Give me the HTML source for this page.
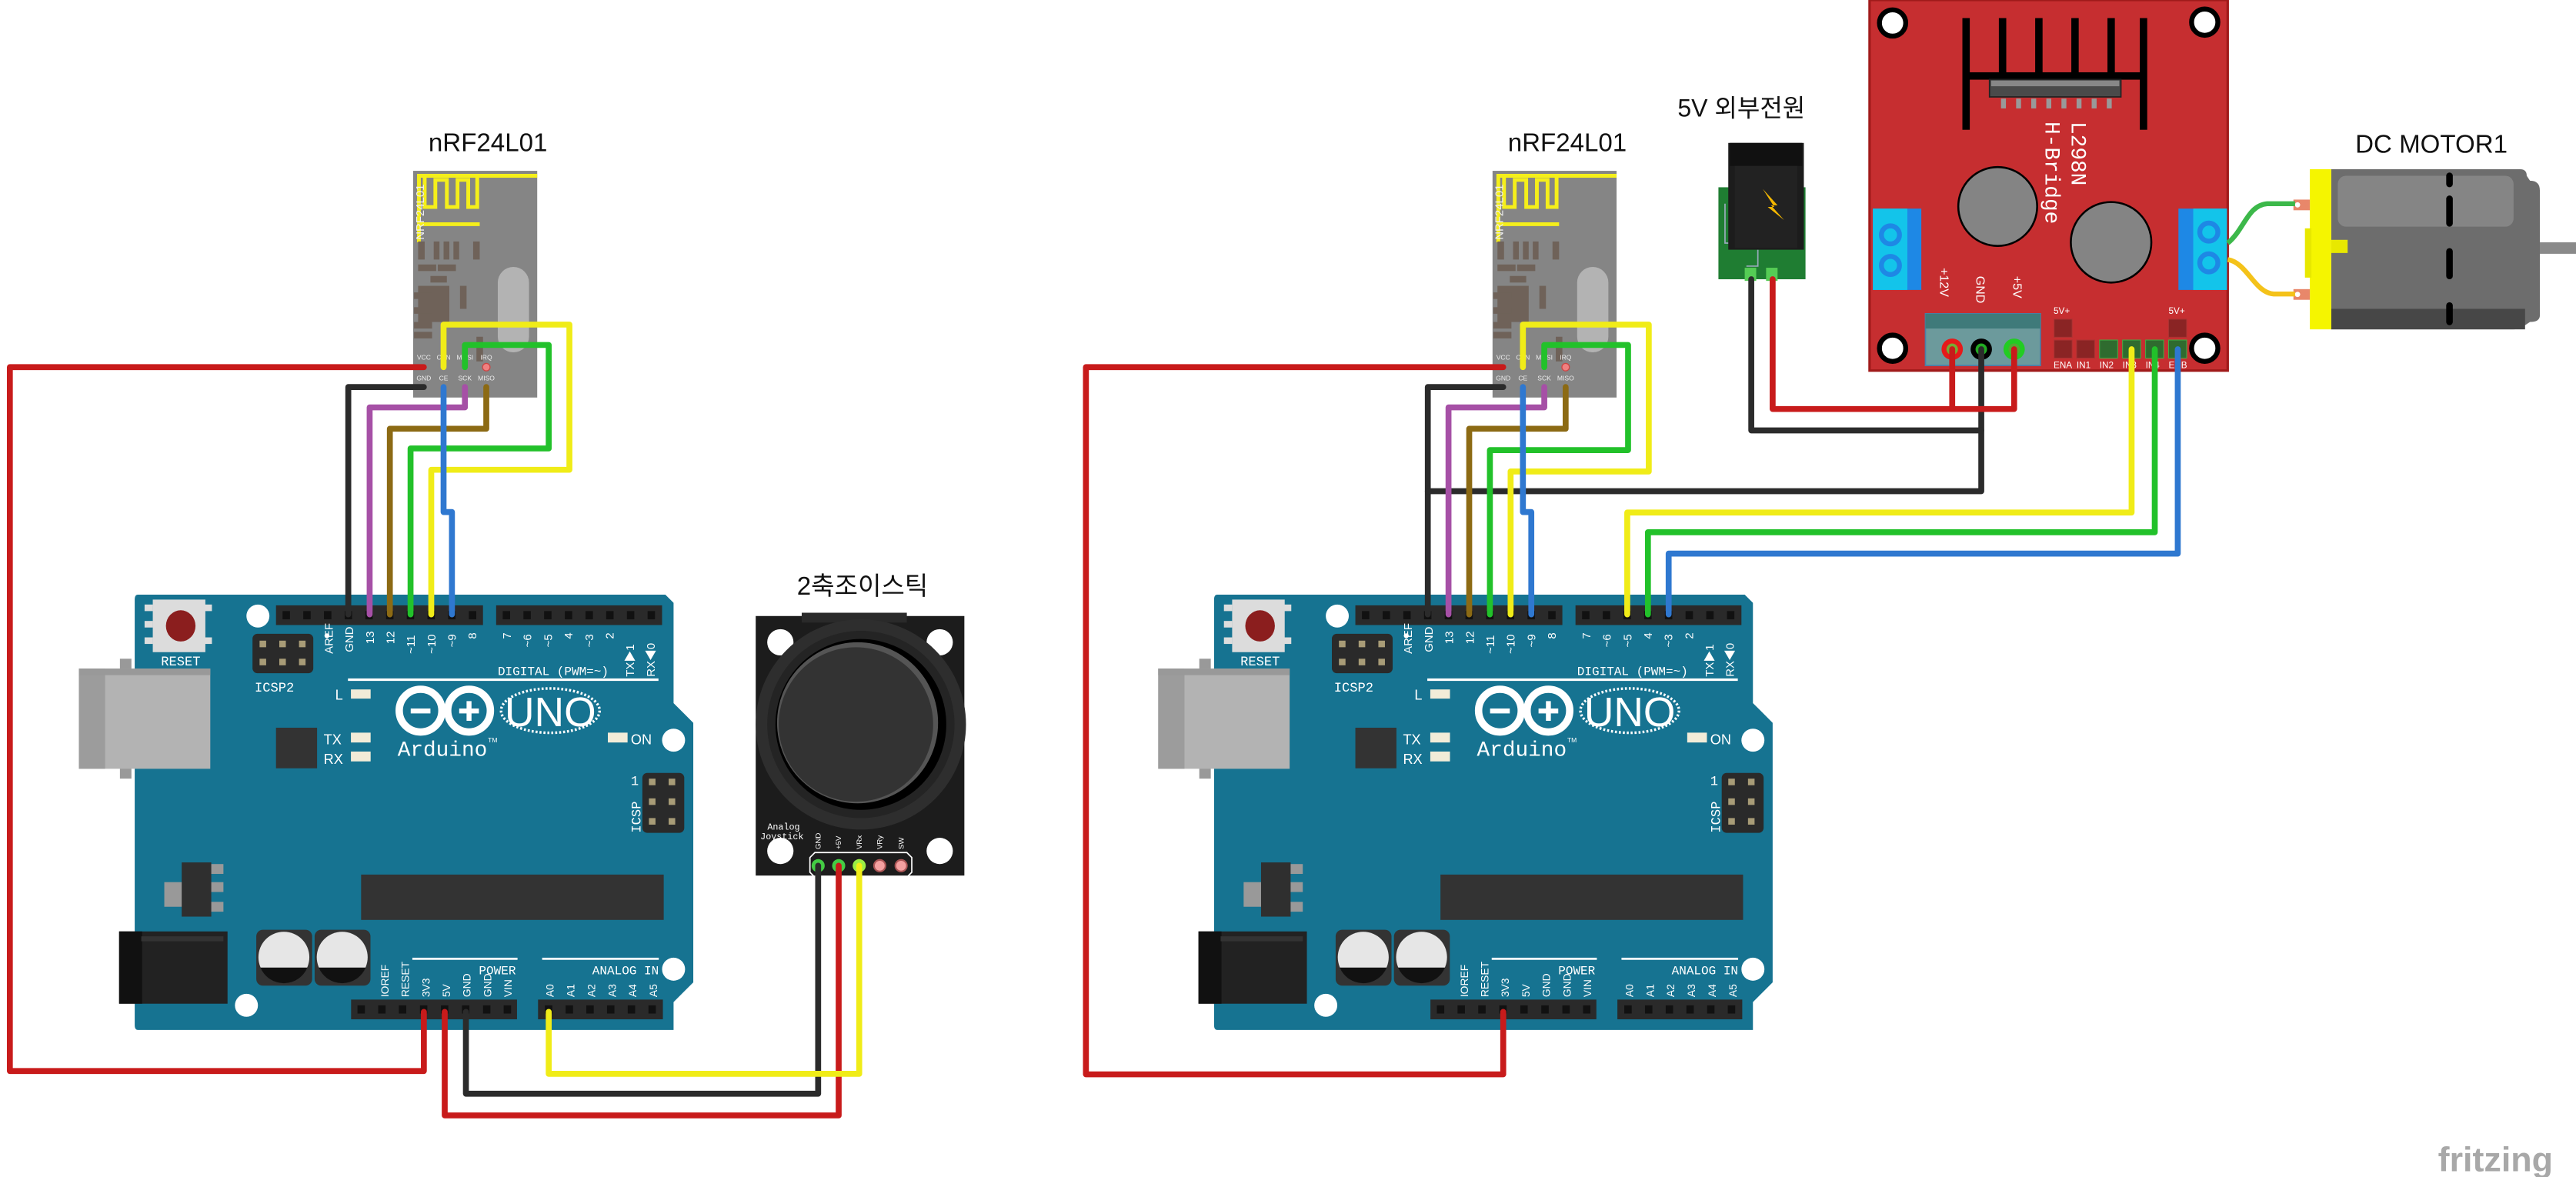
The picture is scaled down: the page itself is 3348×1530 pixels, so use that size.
<!DOCTYPE html>
<html><head><meta charset="utf-8"><style>
html,body{margin:0;padding:0;background:#fff;}
svg{display:block;}
text{font-family:"Liberation Sans","Noto Sans CJK KR",sans-serif;}
.m{font-family:"Liberation Mono","DejaVu Sans Mono",monospace;}
</style></head><body>
<svg width="3348" height="1530" viewBox="0 0 1568 716.5" preserveAspectRatio="none" xmlns="http://www.w3.org/2000/svg" xmlns:xlink="http://www.w3.org/1999/xlink">
<defs>
<g id="ard">
 <path d="M84,362 H405 L410,367 V428 L422,440 V598 L410,610 V627 H84 Q82,627 82,624 V365 Q82,362 84,362 Z" fill="#167391"/>
 <!-- reset -->
 <rect x="88" y="368" width="5" height="4" fill="#ddd"/><rect x="88" y="378" width="5" height="4" fill="#ddd"/><rect x="88" y="388" width="5" height="4" fill="#ddd"/>
 <rect x="124" y="368" width="5" height="4" fill="#ddd"/><rect x="124" y="388" width="5" height="4" fill="#ddd"/>
 <rect x="93" y="365" width="32" height="32" fill="#dcdcdc"/>
 <ellipse cx="110" cy="381" rx="9" ry="9.5" fill="#8b1e1e"/>
 <text x="110" y="405" font-size="8" fill="#fff" text-anchor="middle" class="m">RESET</text>
 <!-- USB -->
 <rect x="73" y="401" width="7" height="8" fill="#999"/><rect x="73" y="466" width="7" height="8" fill="#999"/>
 <rect x="48" y="407" width="80" height="61" fill="#b3b3b3"/>
 <rect x="48" y="407" width="16" height="61" fill="#9c9c9c"/>
 <rect x="48" y="407" width="80" height="4" fill="#999"/>
 <!-- holes -->
 <circle cx="157" cy="375" r="7" fill="#fff"/><circle cx="410" cy="450.6" r="7" fill="#fff"/>
 <circle cx="410" cy="590" r="7" fill="#fff"/><circle cx="150" cy="612" r="7" fill="#fff"/>
 <!-- ICSP2 -->
 <rect x="153.7" y="385.8" width="37" height="24" rx="3" fill="#2a2a2a"/>
 <g fill="#a89c77"><rect x="158" y="390" width="4" height="4"/><rect x="170" y="390" width="4" height="4"/><rect x="182" y="390" width="4" height="4"/><rect x="158" y="401" width="4" height="4"/><rect x="170" y="401" width="4" height="4"/><rect x="182" y="401" width="4" height="4"/></g>
 <text x="167" y="421" font-size="8" fill="#fff" text-anchor="middle" class="m">ICSP2</text>
 <circle cx="199" cy="387" r="1.5" fill="#fff"/>
 <!-- digital headers -->
 <rect x="168" y="368.5" width="126" height="12" fill="#2a2a2a"/>
 <rect x="302" y="368.5" width="101" height="12" fill="#2a2a2a"/>
 <g fill="#111">
  <rect x="172" y="372" width="4.5" height="5"/><rect x="184.6" y="372" width="4.5" height="5"/><rect x="197.2" y="372" width="4.5" height="5"/><rect x="209.8" y="372" width="4.5" height="5"/><rect x="222.4" y="372" width="4.5" height="5"/><rect x="235" y="372" width="4.5" height="5"/><rect x="247.6" y="372" width="4.5" height="5"/><rect x="260.2" y="372" width="4.5" height="5"/><rect x="272.8" y="372" width="4.5" height="5"/><rect x="285.4" y="372" width="4.5" height="5"/>
  <rect x="306" y="372" width="4.5" height="5"/><rect x="318.6" y="372" width="4.5" height="5"/><rect x="331.2" y="372" width="4.5" height="5"/><rect x="343.8" y="372" width="4.5" height="5"/><rect x="356.4" y="372" width="4.5" height="5"/><rect x="369" y="372" width="4.5" height="5"/><rect x="381.6" y="372" width="4.5" height="5"/><rect x="394.2" y="372" width="4.5" height="5"/>
 </g>
 <g font-size="7" fill="#fff" class="m">
  <text transform="translate(202.5,398) rotate(-90)">AREF</text>
  <text transform="translate(215,397) rotate(-90)">GND</text>
  <text transform="translate(227.5,392) rotate(-90)">13</text>
  <text transform="translate(240,392) rotate(-90)">12</text>
  <text transform="translate(252.5,398) rotate(-90)">~11</text>
  <text transform="translate(265,398) rotate(-90)">~10</text>
  <text transform="translate(277.5,394) rotate(-90)">~9</text>
  <text transform="translate(290,389) rotate(-90)">8</text>
  <text transform="translate(311,389) rotate(-90)">7</text>
  <text transform="translate(323.5,394) rotate(-90)">~6</text>
  <text transform="translate(336,394) rotate(-90)">~5</text>
  <text transform="translate(348.5,389) rotate(-90)">4</text>
  <text transform="translate(361,394) rotate(-90)">~3</text>
  <text transform="translate(373.5,389) rotate(-90)">2</text>
  <text transform="translate(386,412) rotate(-90)">TX▶1</text>
  <text transform="translate(398.5,412) rotate(-90)">RX◀0</text>
 </g>
 <text x="303" y="411" font-size="7.5" fill="#fff" class="m">DIGITAL (PWM=~)</text>
 <rect x="211.8" y="413" width="189" height="1.5" fill="#fff"/>
 <!-- LEDs -->
 <g fill="#f2ecd8"><rect x="213.6" y="419.7" width="12" height="5.6"/><rect x="213.6" y="446" width="12" height="6"/><rect x="213.6" y="457.5" width="12" height="6"/><rect x="370" y="446" width="12" height="6"/></g>
 <g font-size="8.5" fill="#fff" class="m"><text x="204" y="426">L</text><text x="197" y="453">TX</text><text x="197" y="465">RX</text><text x="384" y="453">ON</text></g>
 <rect x="168" y="443" width="25" height="24.7" fill="#333"/>
 <!-- logo -->
 <circle cx="256" cy="432.6" r="13" fill="none" stroke="#fff" stroke-width="4.5"/>
 <circle cx="285.5" cy="432.6" r="13" fill="none" stroke="#fff" stroke-width="4.5"/>
 <rect x="250" y="431.3" width="12" height="3" fill="#fff"/>
 <rect x="279.5" y="431.3" width="12" height="3" fill="#fff"/><rect x="284" y="426.8" width="3" height="12" fill="#fff"/>
 <ellipse cx="335" cy="432.6" rx="30" ry="13.5" fill="none" stroke="#fff" stroke-width="1.6" stroke-dasharray="1.2 1.2"/>
 <text x="335" y="442" font-size="25" fill="#fff" text-anchor="middle">UNO</text>
 <text x="242" y="460" font-size="13" fill="#fff" class="m">Arduino</text>
 <text x="297" y="452" font-size="4" fill="#fff">TM</text>
 <!-- ICSP -->
 <rect x="391" y="470.5" width="25.5" height="36.5" rx="3" fill="#2a2a2a"/>
 <g fill="#a89c77"><rect x="395" y="474" width="4" height="4"/><rect x="407" y="474" width="4" height="4"/><rect x="395" y="486" width="4" height="4"/><rect x="407" y="486" width="4" height="4"/><rect x="395" y="498" width="4" height="4"/><rect x="407" y="498" width="4" height="4"/></g>
 <text transform="translate(390,507) rotate(-90)" font-size="8" fill="#fff" class="m">ICSP</text>
 <text x="384" y="478" font-size="8" fill="#fff" class="m">1</text>
 <!-- main chip -->
 <rect x="219.8" y="532.4" width="184.2" height="27.6" fill="#333"/>
 <!-- regulator -->
 <rect x="100" y="537" width="12" height="15" fill="#999"/>
 <rect x="128" y="526" width="8" height="6" fill="#999"/><rect x="128" y="537" width="8" height="6" fill="#999"/><rect x="128" y="549" width="8" height="6" fill="#999"/>
 <rect x="110.6" y="525" width="18" height="33" fill="#2f2f2f"/>
 <!-- power jack -->
 <rect x="72.5" y="567" width="66" height="44" fill="#222"/>
 <rect x="72.5" y="567" width="14" height="44" fill="#111"/>
 <rect x="86" y="570" width="50" height="3" fill="#333"/>
 <!-- capacitors -->
 <rect x="156" y="566" width="34" height="34" rx="4" fill="#333"/>
 <rect x="191.5" y="566" width="34" height="34" rx="4" fill="#333"/>
 <circle cx="172.8" cy="582.7" r="15.5" fill="#e6e6e6"/>
 <circle cx="208.3" cy="582.7" r="15.5" fill="#e6e6e6"/>
 <path d="M158.5,589 H187.1 A15.5,15.5 0 0 1 158.5,589 Z" fill="#111"/>
 <path d="M194,589 H222.6 A15.5,15.5 0 0 1 194,589 Z" fill="#111"/>
 <!-- bottom headers -->
 <rect x="213.7" y="608.5" width="101" height="12" fill="#2a2a2a"/>
 <rect x="327.5" y="608.5" width="76" height="12" fill="#2a2a2a"/>
 <g fill="#111">
  <rect x="217.6" y="612" width="4.5" height="5"/><rect x="230.2" y="612" width="4.5" height="5"/><rect x="242.8" y="612" width="4.5" height="5"/><rect x="255.6" y="612" width="4.5" height="5"/><rect x="268.4" y="612" width="4.5" height="5"/><rect x="281.2" y="612" width="4.5" height="5"/><rect x="294" y="612" width="4.5" height="5"/><rect x="306.6" y="612" width="4.5" height="5"/>
  <rect x="331.7" y="612" width="4.5" height="5"/><rect x="344.3" y="612" width="4.5" height="5"/><rect x="356.9" y="612" width="4.5" height="5"/><rect x="369.5" y="612" width="4.5" height="5"/><rect x="382.1" y="612" width="4.5" height="5"/><rect x="394.7" y="612" width="4.5" height="5"/>
 </g>
 <rect x="251" y="583" width="64" height="1.3" fill="#fff"/>
 <rect x="330" y="583" width="71" height="1.3" fill="#fff"/>
 <text x="314" y="593" font-size="7.5" fill="#fff" text-anchor="end" class="m">POWER</text>
 <text x="401" y="593" font-size="7.5" fill="#fff" text-anchor="end" class="m">ANALOG IN</text>
 <g font-size="6.5" fill="#fff" class="m">
  <text transform="translate(236.5,607) rotate(-90)">IOREF</text>
  <text transform="translate(249,607) rotate(-90)">RESET</text>
  <text transform="translate(261.5,607) rotate(-90)">3V3</text>
  <text transform="translate(274,607) rotate(-90)">5V</text>
  <text transform="translate(286.5,607) rotate(-90)">GND</text>
  <text transform="translate(299,607) rotate(-90)">GND</text>
  <text transform="translate(311.5,607) rotate(-90)">VIN</text>
  <text transform="translate(337,607) rotate(-90)">A0</text>
  <text transform="translate(349.6,607) rotate(-90)">A1</text>
  <text transform="translate(362.2,607) rotate(-90)">A2</text>
  <text transform="translate(374.8,607) rotate(-90)">A3</text>
  <text transform="translate(387.4,607) rotate(-90)">A4</text>
  <text transform="translate(400,607) rotate(-90)">A5</text>
 </g>
</g>
<g id="nrf">
 <rect x="251.5" y="104" width="75.5" height="138" fill="#858585"/>
 <path d="M255,147.5 V107 H327 M255,136.5 H292 M258.5,107 V126 H265 V109.5 H272 V126 H278.5 V109.5 H285 V126 H290.5 V107" fill="none" stroke="#f5ef1a" stroke-width="2.3"/>
 <rect x="303" y="162.5" width="19" height="52" rx="9.5" fill="#b3b3b3"/>
 <g fill="#6f6259">
  <rect x="254.5" y="147" width="4" height="11"/><rect x="264" y="147" width="3.5" height="11"/><rect x="270" y="147" width="3.5" height="11"/><rect x="276" y="147" width="3.5" height="11"/><rect x="288" y="147" width="4" height="11"/>
  <rect x="254.5" y="161" width="11" height="4"/><rect x="266.5" y="161" width="11" height="4"/><rect x="262" y="168" width="10" height="4"/>
  <rect x="254.5" y="174" width="19" height="22"/><rect x="280" y="174" width="4" height="14"/>
  <rect x="240" y="178" width="11" height="4" transform="translate(12,0)"/><rect x="252" y="187" width="11" height="4"/><rect x="252" y="196" width="11" height="4"/><rect x="252" y="202" width="11" height="4"/>
  <rect x="290" y="205" width="4" height="15"/>
 </g>
 <text transform="translate(258,146) rotate(-90)" font-size="7" fill="#eee">NRF24L01</text>
 <g font-size="4" fill="#eee" text-anchor="middle"><text x="258" y="219">VCC</text><text x="270" y="219">CSN</text><text x="283" y="219">MOSI</text><text x="296" y="219">IRQ</text><text x="258" y="231.5">GND</text><text x="270" y="231.5">CE</text><text x="283" y="231.5">SCK</text><text x="296" y="231.5">MISO</text></g>
 <circle cx="296" cy="223.5" r="2.3" fill="#f08080" stroke="#c44" stroke-width="0.6"/>
</g>
</defs>

<!-- labels -->
<text x="297" y="92" font-size="15.5" fill="#111" text-anchor="middle">nRF24L01</text>
<text x="954" y="92" font-size="15.5" fill="#111" text-anchor="middle">nRF24L01</text>
<text x="525" y="362" font-size="15.5" fill="#111" text-anchor="middle">2축조이스틱</text>
<text x="1060" y="71" font-size="15" fill="#111" text-anchor="middle">5V 외부전원</text>
<text x="1480" y="93" font-size="15.5" fill="#111" text-anchor="middle">DC MOTOR1</text>
<text x="1519" y="713" font-size="21" fill="#a8a8a8" text-anchor="middle" font-weight="bold">fritzing</text>

<use xlink:href="#ard"/>
<use xlink:href="#ard" transform="translate(657,0)"/>
<use xlink:href="#nrf"/>
<use xlink:href="#nrf" transform="translate(657,0)"/>

<!-- joystick -->
<rect x="460" y="375" width="127" height="158" fill="#1c1c1c"/>
<rect x="488" y="373" width="64" height="6" fill="#2a2a2a"/>
<circle cx="475" cy="391" r="8" fill="#fff"/><circle cx="572" cy="391" r="8" fill="#fff"/>
<circle cx="475" cy="518" r="8" fill="#fff"/><circle cx="572" cy="518" r="8" fill="#fff"/>
<circle cx="524" cy="441" r="64" fill="#2e2e2e"/>
<circle cx="524" cy="441" r="57" fill="#242424"/>
<circle cx="524" cy="441" r="52" fill="#000"/>
<circle cx="522" cy="440" r="49" fill="#555"/>
<circle cx="521" cy="441" r="47" fill="#333"/>
<text x="477" y="505" font-size="5.5" fill="#fff" text-anchor="middle" class="m">Analog</text>
<text x="476" y="511" font-size="5.5" fill="#fff" text-anchor="middle" class="m">Joystick</text>
<g font-size="4.5" fill="#fff" class="m"><text transform="translate(499.5,517) rotate(-90)">GND</text><text transform="translate(512,517) rotate(-90)">+5V</text><text transform="translate(524.5,517) rotate(-90)">VRx</text><text transform="translate(537,517) rotate(-90)">VRy</text><text transform="translate(550,517) rotate(-90)">SW</text></g>
<path d="M493,522 L496,519 H552 L555,522 V531 L552,534 H496 L493,531 Z" fill="none" stroke="#fff" stroke-width="0.8"/>
<circle cx="498" cy="527" r="4" fill="#4c4" /><circle cx="510.5" cy="527" r="4" fill="#4c4"/><circle cx="523" cy="527" r="4" fill="#9e4"/>
<circle cx="535.5" cy="527" r="3.5" fill="#f4a0a0" stroke="#a55" stroke-width="1"/><circle cx="548.5" cy="527" r="3.5" fill="#f4a0a0" stroke="#a55" stroke-width="1"/>

<!-- L298N -->
<rect x="1138" y="0" width="218" height="225.6" fill="#c62e30" stroke="#a01a1a" stroke-width="1.5"/>
<g fill="#fff" stroke="#000" stroke-width="3"><circle cx="1152" cy="14" r="8"/><circle cx="1342" cy="13.5" r="8"/><circle cx="1152" cy="212" r="8"/><circle cx="1342" cy="212" r="8"/></g>
<g fill="#000"><rect x="1194.5" y="11" width="4.5" height="68"/><rect x="1216.7" y="11" width="4.5" height="36"/><rect x="1238.8" y="11" width="4.5" height="36"/><rect x="1260.8" y="11" width="4.5" height="36"/><rect x="1282.8" y="11" width="4.5" height="36"/><rect x="1302.5" y="11" width="4.5" height="68"/><rect x="1194.5" y="44" width="112" height="4.5"/></g>
<rect x="1211" y="48.4" width="80" height="10.6" fill="#4a4a4a" stroke="#222" stroke-width="0.8"/>
<rect x="1212" y="49" width="78" height="3.5" fill="#888"/>
<g fill="#999"><rect x="1218" y="60" width="3" height="6"/><rect x="1227.2" y="60" width="3" height="6"/><rect x="1236.4" y="60" width="3" height="6"/><rect x="1245.6" y="60" width="3" height="6"/><rect x="1254.8" y="60" width="3" height="6"/><rect x="1264" y="60" width="3" height="6"/><rect x="1273.2" y="60" width="3" height="6"/><rect x="1282.4" y="60" width="3" height="6"/></g>
<circle cx="1216" cy="125.7" r="24" fill="#848484" stroke="#000" stroke-width="1.2"/>
<circle cx="1285" cy="147.5" r="24.5" fill="#848484" stroke="#000" stroke-width="1.2"/>
<text transform="translate(1261,74) rotate(90)" font-size="13" fill="#fff" class="m">L298N</text>
<text transform="translate(1245,74) rotate(90)" font-size="13" fill="#fff" class="m">H-Bridge</text>
<rect x="1140" y="127" width="29.5" height="49.5" fill="#1e88e5"/><rect x="1140" y="127" width="21" height="49.5" fill="#13c4ea"/>
<circle cx="1150.7" cy="143" r="5.5" fill="none" stroke="#1e88e5" stroke-width="3"/><circle cx="1150.7" cy="161.6" r="5.5" fill="none" stroke="#1e88e5" stroke-width="3"/>
<rect x="1326" y="127" width="29.5" height="49.5" fill="#1e88e5"/><rect x="1335" y="127" width="20.5" height="49.5" fill="#13c4ea"/>
<circle cx="1344.5" cy="141.3" r="5.5" fill="none" stroke="#1e88e5" stroke-width="3"/><circle cx="1344.5" cy="160" r="5.5" fill="none" stroke="#1e88e5" stroke-width="3"/>
<g font-size="7.5" fill="#fff" class="m"><text transform="translate(1181,163) rotate(90)">+12V</text><text transform="translate(1203,168) rotate(90)">GND</text><text transform="translate(1225.5,168) rotate(90)">+5V</text></g>
<rect x="1172" y="191" width="70" height="31.5" fill="#6c9a9c" stroke="#4a7fa8" stroke-width="0.8"/>
<rect x="1172" y="191" width="70" height="9" fill="#3f7a7a"/>
<circle cx="1188.3" cy="212.6" r="6.5" fill="#e51a1a"/><circle cx="1188.3" cy="212.6" r="3.5" fill="#7a3" />
<circle cx="1206" cy="212.6" r="6.5" fill="#000"/><circle cx="1206" cy="212.6" r="3.5" fill="#2a2"/>
<circle cx="1226" cy="212.6" r="6.5" fill="#2c2"/><circle cx="1226" cy="212.6" r="3.5" fill="#5a3"/>
<g fill="#8a2424" stroke="#a33" stroke-width="0.5"><rect x="1250.3" y="194.3" width="11" height="11"/><rect x="1320" y="194.3" width="11" height="11"/><rect x="1250.3" y="207" width="11" height="11"/><rect x="1264" y="207" width="11" height="11"/></g>
<g fill="#2f6b2f" stroke="#4a4" stroke-width="0.5"><rect x="1278" y="207" width="11" height="11"/><rect x="1292" y="207" width="11" height="11"/><rect x="1306" y="207" width="11" height="11"/><rect x="1320" y="207" width="11" height="11"/></g>
<g font-size="5.5" fill="#fff" class="m"><text x="1250" y="191">5V+</text><text x="1320" y="191">5V+</text><text x="1250" y="224">ENA</text><text x="1264" y="224">IN1</text><text x="1278" y="224">IN2</text><text x="1292" y="224">IN3</text><text x="1306" y="224">IN4</text><text x="1320" y="224">ENB</text></g>

<!-- power jack -->
<rect x="1046" y="114" width="53" height="56" fill="#1f7d32"/>
<path d="M1050,124 V148 H1062 M1070,152 V162 H1063" fill="none" stroke="#9ab" stroke-width="0.8"/>
<rect x="1052" y="87" width="46" height="65" fill="#1c1c1c"/>
<rect x="1053" y="87" width="44" height="14" fill="#111"/>
<rect x="1056" y="101" width="38" height="50" fill="#222"/>
<path d="M1073,115 L1082,125 L1078,125 L1086,134 L1076,126 L1080,126 Z" fill="#f5b800"/>
<rect x="1062" y="163" width="7" height="8" fill="#5c5" /><rect x="1075" y="163" width="7" height="8" fill="#5c5"/>

<!-- DC motor -->
<rect x="1500" y="147.5" width="68" height="7" fill="#8a8a8a"/>
<path d="M1419,103 H1534 Q1538,103 1538,107 L1540,110 Q1546,110 1546,116 V192 Q1546,196 1540,196 L1537,198 Q1535,200.5 1530,200.5 H1419 Z" fill="#6d6d6d"/>
<rect x="1419" y="188" width="118" height="12.5" fill="#474747"/>
<rect x="1423" y="107" width="107" height="31" rx="5" fill="#858585"/>
<g fill="#000"><rect x="1489" y="105" width="4" height="9" rx="2"/><rect x="1489" y="119" width="4" height="19" rx="2"/><rect x="1489" y="151" width="4" height="19" rx="2"/><rect x="1489" y="184" width="4" height="14" rx="2"/></g>
<rect x="1406" y="103" width="13" height="97.5" fill="#f5f500"/>
<rect x="1403" y="139" width="4" height="30" fill="#e8e800"/>
<rect x="1419" y="146" width="10" height="8" fill="#e8e800"/>
<rect x="1396" y="121.5" width="10" height="6.5" fill="#e8876a"/><rect x="1396" y="176" width="10" height="6.5" fill="#e8876a"/>
<circle cx="1398.5" cy="124.7" r="1.6" fill="#fff"/><circle cx="1398.5" cy="179.2" r="1.6" fill="#fff"/>
<path d="M1356,148 C1366,140 1368,125 1380,124 H1397" fill="none" stroke="#3cb84a" stroke-width="3"/>
<path d="M1356,158 C1368,160 1372,178 1384,179 H1397" fill="none" stroke="#f4c21a" stroke-width="3"/>

<!-- wires -->
<g fill="none" stroke-width="3.6" stroke-linejoin="round" stroke-linecap="round">
 <!-- left -->
 <path d="M258,223.5 H6 V652 H258 V616" stroke="#c81b1b"/>
 <path d="M258,235.6 H212 V374" stroke="#2b2b2b"/>
 <path d="M283,235.6 V248 H225 V374" stroke="#a650a6"/>
 <path d="M296,235.6 V261 H237.3 V374" stroke="#8c6a14"/>
 <path d="M283,223.5 V210 H334 V273 H249.9 V374" stroke="#22c12a"/>
 <path d="M270,223.5 V197.6 H346.6 V286 H262.5 V374" stroke="#f0ec18"/>
 <path d="M270,235.6 V311.7 H275.1 V374" stroke="#2f78d0"/>
 <path d="M498,527 V665.8 H283.6 V616" stroke="#2b2b2b"/>
 <path d="M510.5,527 V679 H270.7 V616" stroke="#c81b1b"/>
 <path d="M523,527 V653.7 H334 V616" stroke="#f0ec18"/>
 <!-- right -->
 <path d="M915,223.5 H661 V654 H915 V616" stroke="#c81b1b"/>
 <path d="M915,235.6 H869.1 V374" stroke="#2b2b2b"/>
 <path d="M869.1,299 H1206 V212.6" stroke="#2b2b2b"/>
 <path d="M1066,170 V262 H1206" stroke="#2b2b2b"/>
 <path d="M1079,170 V249 H1226 V212.6" stroke="#c81b1b"/>
 <path d="M1188.3,212.6 V249" stroke="#c81b1b"/>
 <path d="M940,235.6 V248 H881.7 V374" stroke="#a650a6"/>
 <path d="M953,235.6 V261 H894.3 V374" stroke="#8c6a14"/>
 <path d="M940,223.5 V210 H991 V274 H906.9 V374" stroke="#22c12a"/>
 <path d="M927,223.5 V197.6 H1003.6 V287 H919.5 V374" stroke="#f0ec18"/>
 <path d="M927,235.6 V311.7 H932.1 V374" stroke="#2f78d0"/>
 <path d="M1297.5,212.6 V312 H990.5 V374" stroke="#f0ec18"/>
 <path d="M1311.6,212.6 V324 H1003.1 V374" stroke="#22c12a"/>
 <path d="M1325.6,212.6 V337 H1015.7 V374" stroke="#2f78d0"/>
</g>
</svg>
</body></html>
